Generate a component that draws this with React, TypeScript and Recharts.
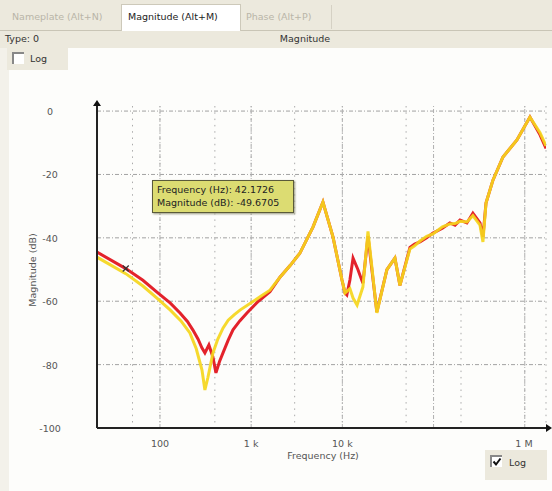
import React from "react";
import { LineChart, Line, XAxis, YAxis, CartesianGrid, ReferenceLine, ReferenceDot } from "recharts";

// measured curve 1 (red)
const redFreq = [
  20.4, 42.17, 65, 92.7, 130, 166, 200, 230, 262, 289, 311, 344, 380, 411, 450, 491, 560, 632, 750, 899, 1200,
  1607, 2070, 2700, 3428, 4760, 6125, 7890, 9910, 10700, 11200, 12100, 13100, 14800, 16800, 19100, 23900,
  30800, 37700, 42800, 55100, 62000, 71000, 84000, 98500, 125000, 151000, 172000, 195000, 232000, 270000,
  323000, 348000, 376000, 448000, 577000, 821000, 1140000, 1470000, 1710000,
];
const redMag = [
  -44.5, -49.7, -53.4, -57.1, -60.6, -63.7, -66.4, -69.1, -72, -74.8, -76.3, -73.8, -77.5, -82.6, -79, -76.3,
  -72.3, -69, -66.2, -63.7, -60, -57, -52.4, -48.6, -44.8, -36.6, -28.7, -39.7, -53.3, -57.4, -58, -53.3,
  -46.4, -50, -54.3, -39.5, -63.4, -50, -46.4, -55, -43, -42, -41.3, -40, -38.5, -37, -35.3, -36, -34.4,
  -35.3, -32.2, -35.3, -39.7, -29, -21.8, -14.5, -9.1, -1.9, -7.5, -11.8,
];

// measured curve 2 (yellow)
const yellowFreq = [
  20.4, 42.17, 65, 92.7, 130, 170, 213, 250, 289, 311, 336, 381, 430, 491, 560, 650, 754, 1000, 1300, 1607,
  2070, 2700, 3428, 4760, 6125, 7890, 9910, 10700, 12100, 13100, 14500, 16800, 19100, 23900, 30800, 37700,
  42800, 55100, 62000, 71000, 84000, 98500, 125000, 151000, 172000, 195000, 232000, 270000, 323000, 348000,
  376000, 448000, 577000, 821000, 1140000, 1470000, 1710000,
];
const yellowMag = [
  -46.1, -51.3, -55.2, -59, -62.8, -66.2, -70, -75, -81.7, -88, -84, -76.3, -72, -68.5, -66, -64.3, -62.8,
  -60.5, -58.3, -56.5, -52.4, -48.6, -44.8, -36.6, -28.7, -39.7, -53.3, -57.4, -56, -59, -61.2, -55.5, -38,
  -63.7, -50, -46.4, -55, -43.5, -42.5, -41, -39.5, -38.8, -36.5, -35.6, -35.5, -34.8, -35, -33, -36, -41.3,
  -29, -21.8, -14.5, -9.1, -1.9, -6.8, -11,
];

const decadeTicks = [100, 1000, 10000, 100000, 1000000];
const decadeLabels = ["100", "1 k", "10 k", "100 k", "1 M"];
const magTicks = [0, -20, -40, -60, -80, -100];

const F_MIN = 20.4;
const F_MAX = 1710000;

const minorTicks: number[] = [];
for (let d = 10; d <= 1000000; d *= 10) {
  for (let k = 1; k < 10; k++) {
    const v = d * k;
    if (v > F_MIN && v < F_MAX) minorTicks.push(v);
  }
}

const redData = redFreq.map((f, i) => ({ f, mag: redMag[i] }));
const yellowData = yellowFreq.map((f, i) => ({ f, mag: yellowMag[i] }));

const FONT = "'DejaVu Sans', Verdana, sans-serif";
const BEIGE = "#ece9dd";

const XTick = (props: any) => {
  const { x, payload } = props;
  const i = decadeTicks.indexOf(payload.value);
  if (i < 0) return <g />;
  return (
    <text x={x} y={447} textAnchor="middle" fontSize={9.5} fill="#555" fontFamily={FONT}>
      {decadeLabels[i]}
    </text>
  );
};

const YTick = (props: any) => {
  const { y, payload } = props;
  return (
    <text x={50} y={y + 4} textAnchor="middle" fontSize={9.5} fill="#555" fontFamily={FONT}>
      {payload.value}
    </text>
  );
};

const Cross = (props: any) => {
  const { cx, cy } = props;
  return (
    <g stroke="#333" strokeWidth={1.2}>
      <line x1={cx - 3} y1={cy - 3} x2={cx + 3} y2={cy + 3} />
      <line x1={cx - 3} y1={cy + 3} x2={cx + 3} y2={cy - 3} />
    </g>
  );
};

const txt = (color: string): React.CSSProperties => ({
  position: "absolute",
  fontFamily: FONT,
  fontSize: 9.5,
  color,
  whiteSpace: "nowrap",
});

export default function App() {
  return (
    <div style={{ position: "absolute", left: 0, top: 0, width: 552, height: 491, background: "#f3f1ea", overflow: "hidden" }}>
      <svg width={0} height={0} style={{ position: "absolute" }}>
        <defs>
          <marker id="axisArrow" viewBox="0 0 6 8" refX={0} refY={4} markerWidth={6} markerHeight={8}
            markerUnits="userSpaceOnUse" orient="auto-start-reverse">
            <path d="M0,0 L6,4 L0,8 z" fill="#111" />
          </marker>
        </defs>
      </svg>

      {/* tabs */}
      <div style={{ position: "absolute", left: 0, top: 0, width: 552, height: 30, background: BEIGE, borderBottom: "1px solid #c9c5b6" }} />
      <div style={{ position: "absolute", left: 121, top: 4, width: 118, height: 27, background: "#fff", border: "1px solid #cdc9ba", borderBottom: "none" }} />
      <div style={{ position: "absolute", left: 331, top: 5, width: 1, height: 24, background: "#d5d1c4" }} />
      <div style={{ ...txt("#b9b5a8"), left: 12, top: 11 }}>Nameplate (Alt+N)</div>
      <div style={{ ...txt("#222"), left: 128, top: 11 }}>Magnitude (Alt+M)</div>
      <div style={{ ...txt("#b9b5a8"), left: 246, top: 11 }}>Phase (Alt+P)</div>

      {/* header row */}
      <div style={{ position: "absolute", left: 0, top: 31, width: 552, height: 17, background: BEIGE }} />
      <div style={{ ...txt("#333"), left: 5, top: 33 }}>Type: 0</div>
      <div style={{ ...txt("#333"), left: 305, top: 33, transform: "translateX(-50%)" }}>Magnitude</div>

      {/* chart panel */}
      <div style={{ position: "absolute", left: 9, top: 48, width: 543, height: 443, background: "#fdfdfb" }} />
      <div style={{ position: "absolute", left: 7, top: 48, width: 61, height: 22, background: BEIGE }} />
      <div style={{ position: "absolute", left: 12, top: 52, width: 10, height: 10, background: "#fff", borderTop: "2px solid #888", borderLeft: "2px solid #888" }} />
      <div style={{ ...txt("#333"), left: 30, top: 53 }}>Log</div>

      <div style={{ position: "absolute", left: 0, top: 0 }}>
        <LineChart width={552} height={491} margin={{ top: 106, right: 6, bottom: 33, left: 37 }}>
          <CartesianGrid horizontal={false} stroke="#ababab" strokeDasharray="1.5 4.8" />
          <XAxis
            dataKey="f"
            type="number"
            scale="log"
            domain={[F_MIN, F_MAX]}
            allowDataOverflow
            ticks={minorTicks}
            tick={<XTick />}
            tickLine={false}
            height={30}
            axisLine={{ stroke: "#222", strokeWidth: 2, markerEnd: "url(#axisArrow)" }}
          />
          <YAxis
            type="number"
            domain={[-100, 1.6]}
            allowDataOverflow
            ticks={magTicks}
            tick={<YTick />}
            tickLine={false}
            width={60}
            axisLine={{ stroke: "#222", strokeWidth: 2, markerStart: "url(#axisArrow)" }}
          />
          {magTicks.slice(0, 5).map((v) => (
            <ReferenceLine key={"h" + v} y={v} stroke="#a2a2a2" strokeDasharray="4 2 1 2" />
          ))}
          {decadeTicks.map((v) => (
            <ReferenceLine key={"v" + v} x={v} stroke="#b0b0b0" strokeDasharray="4 2 1 2" />
          ))}
          <Line data={redData} dataKey="mag" type="linear" stroke="#e3222b" strokeWidth={3} dot={false} isAnimationActive={false} />
          <Line data={yellowData} dataKey="mag" type="linear" stroke="#f5d61c" strokeWidth={3} strokeOpacity={0.92} dot={false} isAnimationActive={false} />
          <ReferenceDot x={42.17} y={-49.67} r={3} shape={<Cross />} />
        </LineChart>
      </div>

      {/* axis titles */}
      <div style={{ ...txt("#555"), left: 32, top: 270, transform: "translate(-50%, -50%) rotate(-90deg)" }}>Magnitude (dB)</div>
      <div style={{ ...txt("#555"), left: 323, top: 450, transform: "translateX(-50%)" }}>Frequency (Hz)</div>

      {/* readout */}
      <div style={{ position: "absolute", left: 152, top: 180, width: 132, height: 27, padding: "2px 4px", background: "#dcdc72", border: "1px solid #5a5a3a", boxShadow: "1px 1px 2px #9a9a80", fontFamily: FONT, fontSize: 9.5, lineHeight: "13px", color: "#222", whiteSpace: "nowrap" }}>
        <div>Frequency (Hz): 42.1726</div>
        <div>Magnitude (dB): -49.6705</div>
      </div>

      {/* log checkbox bottom right */}
      <div style={{ position: "absolute", left: 485, top: 450, width: 62, height: 30, background: BEIGE }} />
      <div style={{ position: "absolute", left: 490, top: 455, width: 10, height: 10, background: "#fff", borderTop: "2px solid #888", borderLeft: "2px solid #888" }}>
        <svg width={10} height={10} style={{ position: "absolute", left: 0, top: 0 }}>
          <path d="M1.5,4.5 L4,7.5 L8.5,1.5" stroke="#111" strokeWidth={2} fill="none" />
        </svg>
      </div>
      <div style={{ ...txt("#333"), left: 509, top: 457 }}>Log</div>
    </div>
  );
}
